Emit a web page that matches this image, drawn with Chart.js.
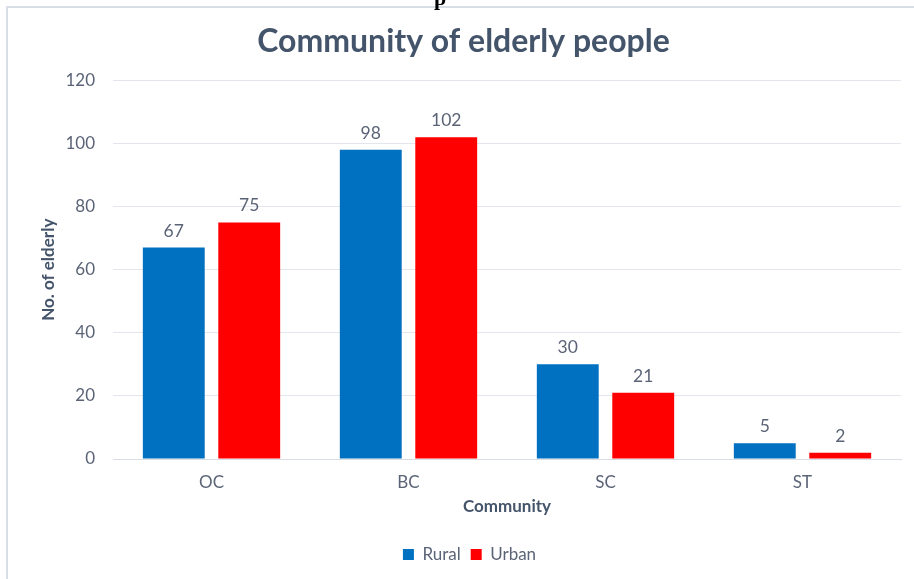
<!DOCTYPE html>
<html>
<head>
<meta charset="utf-8">
<script src="https://cdn.jsdelivr.net/npm/chart.js@4.4.0/dist/chart.umd.min.js"></script>
<style>
  html, body { margin: 0; padding: 0; background: #ffffff; }
  #wrap { position: relative; width: 914px; height: 579px; overflow: hidden; background: #ffffff; }
  #c { position: absolute; left: 0; top: 0; }
  #bl { position: absolute; left: 6px; top: 6px; width: 2px; height: 573px; background: #d7dee6; }
  #bt { position: absolute; left: 6px; top: 6px; width: 908px; height: 2px; background: #d7dee6; }
  #cap { position: absolute; left: 434px; top: -15px; font: bold 22px "Liberation Serif", serif; color: #000; }
</style>
</head>
<body>
<div id="wrap">
  <canvas id="c" width="914" height="579"></canvas>
  <div id="bl"></div>
  <div id="bt"></div>
  <div id="cap">p</div>
</div>
<script>
const categories = ["OC", "BC", "SC", "ST"];
const ruralValues = [67, 98, 30, 5];
const urbanValues = [75, 102, 21, 2];
const seriesNames = ["Rural", "Urban"];
const chartTitle = "Community of elderly people";
const xAxisTitle = "Community";
const yAxisTitle = "No. of elderly";

const FONT = "Lato, 'Open Sans', sans-serif";
const TICK_COLOR = "#5b6477";
const TITLE_COLOR = "#44546a";

const dataLabels = {
  id: "dataLabels",
  afterDatasetsDraw(chart) {
    const ctx = chart.ctx;
    ctx.save();
    ctx.font = "17.5px " + FONT;
    ctx.fillStyle = TICK_COLOR;
    ctx.textAlign = "center";
    ctx.textBaseline = "bottom";
    chart.data.datasets.forEach((ds, i) => {
      const meta = chart.getDatasetMeta(i);
      meta.data.forEach((el, j) => {
        ctx.fillText(String(ds.data[j]), el.x, el.y - 8);
      });
    });
    ctx.restore();
  }
};

const shiftBlocks = {
  id: "shiftBlocks",
  afterLayout(chart) {
    const lg = chart.legend;
    if (lg) { lg.left += 14; lg.right += 14; lg.top += 1; lg.bottom += 1; }
    const tb = chart.titleBlock;
    if (tb) { tb.left += 8; tb.right += 8; }
  }
};

new Chart(document.getElementById("c"), {
  type: "bar",
  data: {
    labels: categories,
    datasets: [
      { label: seriesNames[0], data: ruralValues, backgroundColor: "#0070c0", borderWidth: 0 },
      { label: seriesNames[1], data: urbanValues, backgroundColor: "#ff0000", borderWidth: 0 }
    ]
  },
  options: {
    responsive: false,
    animation: false,
    devicePixelRatio: 1,
    categoryPercentage: 0.766,
    barPercentage: 0.82,
    layout: { padding: { left: 10, right: 13, top: 0, bottom: 7 } },
    plugins: {
      title: {
        display: true,
        text: chartTitle,
        color: TITLE_COLOR,
        font: { family: FONT, size: 32, weight: "bold" },
        padding: { top: 22, bottom: 20 }
      },
      legend: {
        display: true,
        position: "bottom",
        labels: {
          boxWidth: 11,
          boxHeight: 11,
          color: TICK_COLOR,
          font: { family: FONT, size: 17 },
          padding: 10
        }
      },
      tooltip: { enabled: false }
    },
    scales: {
      x: {
        grid: { display: false, drawTicks: false },
        border: { display: true, color: "#d9dde4", width: 1 },
        ticks: { color: TICK_COLOR, font: { family: FONT, size: 17 }, padding: 13 },
        title: {
          display: true, text: xAxisTitle, color: TITLE_COLOR,
          font: { family: FONT, size: 17, weight: "bold" },
          padding: { top: 0, bottom: 18 }
        },
        afterFit(scale) { scale.height = 76; }
      },
      y: {
        min: 0, max: 120,
        ticks: { stepSize: 20, color: TICK_COLOR, font: { family: FONT, size: 17 }, padding: 18 },
        grid: { color: "#e3e6ec", drawTicks: false },
        border: { display: false },
        title: {
          display: true, text: yAxisTitle, color: TITLE_COLOR,
          font: { family: FONT, size: 17, weight: "bold" },
          padding: { top: 28, bottom: 0 }
        },
        afterFit(scale) { scale.width = 103; }
      }
    }
  },
  plugins: [dataLabels, shiftBlocks]
});
</script>
</body>
</html>
